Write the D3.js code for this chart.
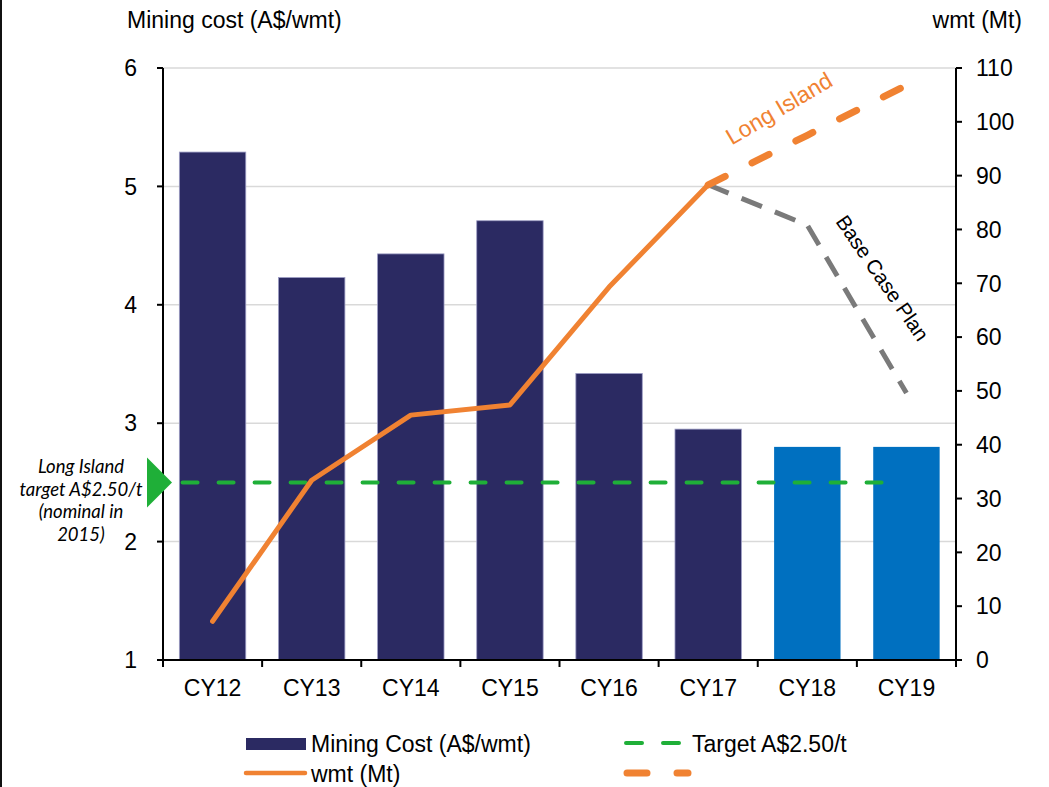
<!DOCTYPE html>
<html>
<head>
<meta charset="utf-8">
<script src="https://cdn.jsdelivr.net/npm/d3@7/dist/d3.min.js"></script>
<style>
  html, body { margin: 0; padding: 0; background: #fff; }
  svg { display: block; }
  text { font-family: "Liberation Sans", Arial, sans-serif; fill: #000; }
</style>
</head>
<body>
<svg id="chart" width="1049" height="787"></svg>
<script>
// ---- data ----
const categories = ["CY12", "CY13", "CY14", "CY15", "CY16", "CY17", "CY18", "CY19"];
const miningCost = [5.29, 4.23, 4.43, 4.71, 3.42, 2.95, 2.80, 2.80];
const forecastYears = ["CY18", "CY19"];
const wmtActual = [7.2, 33.4, 45.5, 47.4, 69.3, 88.3];           // CY12..CY17
const longIslandYears = ["CY17", "CY18", "CY19"];
const longIslandWmt = [88.3, 97.5, 106.8];
const baseCaseYears = ["CY17", "CY18", "CY19"];
const baseCaseWmt = [88.3, 80.8, 49.6];
const targetCost = 2.5;
const leftTicks = [1, 2, 3, 4, 5, 6];
const rightTicks = [0, 10, 20, 30, 40, 50, 60, 70, 80, 90, 100, 110];

// ---- layout ----
const svg = d3.select("#chart");
const plot = { left: 163, right: 956, top: 68, bottom: 660 };
const fs = 23;

const x = d3.scaleBand().domain(categories)
  .range([plot.left, plot.right]).paddingInner(0.33).paddingOuter(0.165);
const xc = c => x(c) + x.bandwidth() / 2;
const yL = d3.scaleLinear().domain([1, 6]).range([plot.bottom, plot.top]);
const yR = d3.scaleLinear().domain([0, 110]).range([plot.bottom, plot.top]);

const navy = "#2b2a62", blue = "#0070c0", orange = "#f08232",
      green = "#1faf38", grey = "#7a7a7a";

// frame line on the left edge
svg.append("line").attr("x1", 1).attr("x2", 1).attr("y1", 0).attr("y2", 787)
  .attr("stroke", "#111").attr("stroke-width", 2);

// gridlines
svg.append("g").selectAll("line").data(leftTicks.filter(t => t > 1)).join("line")
  .attr("x1", plot.left).attr("x2", plot.right)
  .attr("y1", d => yL(d)).attr("y2", d => yL(d))
  .attr("stroke", "#d9d9d9").attr("stroke-width", 1.5);

// bars
svg.append("g").selectAll("rect").data(categories.map((c, i) => ({ c, v: miningCost[i] })))
  .join("rect")
  .attr("x", d => x(d.c)).attr("width", x.bandwidth())
  .attr("y", d => yL(d.v)).attr("height", d => yL(1) - yL(d.v))
  .attr("fill", d => forecastYears.includes(d.c) ? blue : navy)
  .attr("stroke", d => forecastYears.includes(d.c) ? "none" : "#9c9cc4")
  .attr("stroke-width", 0.8);

// target line
svg.append("line")
  .attr("x1", xc("CY12") - 30).attr("x2", xc("CY19") - 8)
  .attr("y1", yL(targetCost)).attr("y2", yL(targetCost))
  .attr("stroke", green).attr("stroke-width", 4)
  .attr("stroke-linecap", "round").attr("stroke-dasharray", "15 21");

// wmt lines
const line = d3.line().x(d => xc(d.c)).y(d => yR(d.v));
const toPts = (cats, vals) => cats.map((c, i) => ({ c, v: vals[i] }));

svg.append("path").datum(toPts(baseCaseYears, baseCaseWmt))
  .attr("d", line).attr("fill", "none").attr("stroke", grey)
  .attr("stroke-width", 5).attr("stroke-dasharray", "22 14");

svg.append("path").datum(toPts(longIslandYears, longIslandWmt))
  .attr("d", line).attr("fill", "none").attr("stroke", orange)
  .attr("stroke-width", 7).attr("stroke-linecap", "round")
  .attr("stroke-dasharray", "19 30");

svg.append("path").datum(toPts(categories.slice(0, wmtActual.length), wmtActual))
  .attr("d", line).attr("fill", "none").attr("stroke", orange)
  .attr("stroke-width", 5).attr("stroke-linecap", "round").attr("stroke-linejoin", "round");

// axes
const axisW = 2;
svg.append("line").attr("x1", plot.left).attr("x2", plot.left)
  .attr("y1", plot.top).attr("y2", plot.bottom).attr("stroke", "#000").attr("stroke-width", axisW);
svg.append("line").attr("x1", plot.right).attr("x2", plot.right)
  .attr("y1", plot.top).attr("y2", plot.bottom).attr("stroke", "#000").attr("stroke-width", axisW);
svg.append("line").attr("x1", plot.left - 6).attr("x2", plot.right + 6)
  .attr("y1", plot.bottom).attr("y2", plot.bottom).attr("stroke", "#000").attr("stroke-width", axisW);

// left ticks
const gl = svg.append("g");
gl.selectAll("line").data(leftTicks).join("line")
  .attr("x1", plot.left - 6).attr("x2", plot.left)
  .attr("y1", d => yL(d)).attr("y2", d => yL(d)).attr("stroke", "#000").attr("stroke-width", 2);
gl.selectAll("text").data(leftTicks).join("text")
  .attr("x", 137).attr("y", d => yL(d)).attr("dy", "0.36em")
  .attr("text-anchor", "end").attr("font-size", fs).text(d => d);

// right ticks
const gr = svg.append("g");
gr.selectAll("line").data(rightTicks).join("line")
  .attr("x1", plot.right).attr("x2", plot.right + 6)
  .attr("y1", d => yR(d)).attr("y2", d => yR(d)).attr("stroke", "#000").attr("stroke-width", 2);
gr.selectAll("text").data(rightTicks).join("text")
  .attr("x", 976).attr("y", d => yR(d)).attr("dy", "0.36em")
  .attr("text-anchor", "start").attr("font-size", fs).text(d => d);

// bottom ticks at category boundaries
const step = x.step();
const bounds = d3.range(categories.length + 1).map(i => plot.left + i * step);
svg.append("g").selectAll("line").data(bounds).join("line")
  .attr("x1", d => d).attr("x2", d => d)
  .attr("y1", plot.bottom).attr("y2", plot.bottom + 7)
  .attr("stroke", "#000").attr("stroke-width", 2);
svg.append("g").selectAll("text").data(categories).join("text")
  .attr("x", d => xc(d)).attr("y", 696)
  .attr("text-anchor", "middle").attr("font-size", fs).text(d => d);

// axis titles
svg.append("text").attr("x", 127).attr("y", 28).attr("font-size", fs).text("Mining cost (A$/wmt)");
svg.append("text").attr("x", 1022).attr("y", 28).attr("text-anchor", "end")
  .attr("font-size", fs).text("wmt (Mt)");

// series annotations
svg.append("text").attr("transform", "translate(780,110) rotate(-30.5)")
  .attr("text-anchor", "middle").attr("dominant-baseline", "middle")
  .attr("font-size", fs).style("fill", orange).text("Long Island");
svg.append("text").attr("transform", "translate(881,279) rotate(55.5)")
  .attr("text-anchor", "middle").attr("dominant-baseline", "middle")
  .attr("font-size", 20.5).text("Base Case Plan");

// target marker and note
const ty = yL(targetCost);
svg.append("path")
  .attr("d", `M147,${ty - 25} L172,${ty} L147,${ty + 25} Z`)
  .attr("fill", green);
const note = ["Long Island", "target A$2.50/t", "(nominal in", "2015)"];
svg.append("g").selectAll("text").data(note).join("text")
  .attr("x", 81).attr("y", (d, i) => 473 + i * 22.5)
  .attr("text-anchor", "middle").attr("font-size", 18.5)
  .style("font-family", "Lato, 'Open Sans', sans-serif").style("font-style", "italic")
  .text(d => d);

// legend
const lg = svg.append("g");
lg.append("rect").attr("x", 246).attr("y", 738).attr("width", 60).attr("height", 12).attr("fill", navy);
lg.append("text").attr("x", 311).attr("y", 752).attr("font-size", fs).text("Mining Cost (A$/wmt)");
lg.append("line").attr("x1", 246).attr("x2", 305).attr("y1", 773).attr("y2", 773)
  .attr("stroke", orange).attr("stroke-width", 4.5).attr("stroke-linecap", "round");
lg.append("text").attr("x", 311).attr("y", 782).attr("font-size", fs).text("wmt (Mt)");
lg.append("line").attr("x1", 626).attr("x2", 680).attr("y1", 743).attr("y2", 743)
  .attr("stroke", green).attr("stroke-width", 4).attr("stroke-linecap", "round")
  .attr("stroke-dasharray", "16 21");
lg.append("text").attr("x", 692).attr("y", 752).attr("font-size", fs).text("Target A$2.50/t");
lg.append("line").attr("x1", 627).attr("x2", 688).attr("y1", 773).attr("y2", 773)
  .attr("stroke", orange).attr("stroke-width", 7).attr("stroke-linecap", "round")
  .attr("stroke-dasharray", "20 30");
</script>
</body>
</html>
